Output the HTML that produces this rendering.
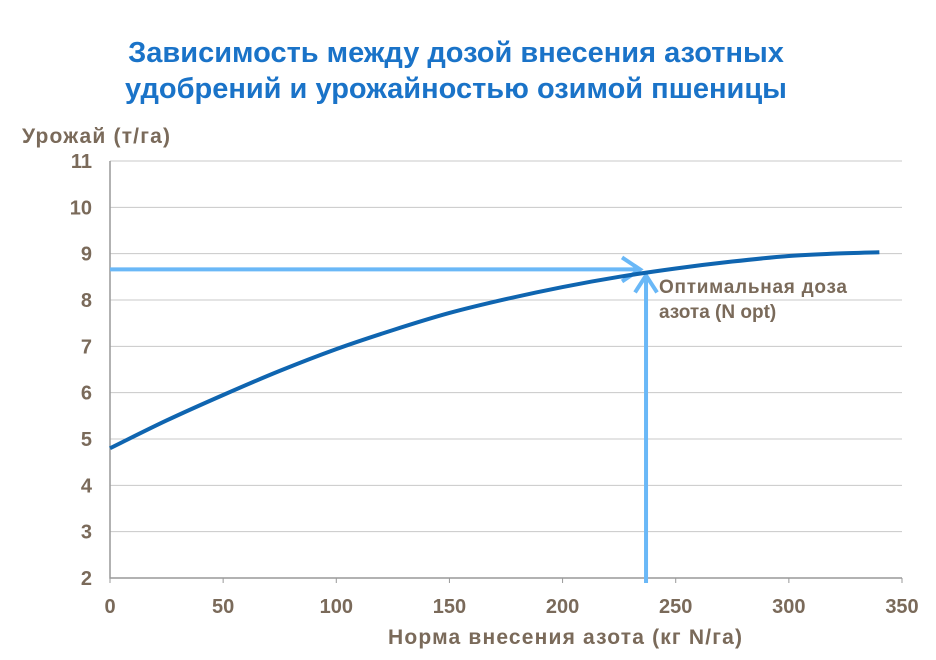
<!DOCTYPE html>
<html><head><meta charset="utf-8"><style>
body{margin:0;background:#fff;width:936px;height:655px;overflow:hidden;font-family:"Liberation Sans",sans-serif}
</style></head><body>
<svg width="936" height="655">
<text x="456" y="62" text-anchor="middle" font-size="29" font-weight="bold" fill="#1a73c8">Зависимость между дозой внесения азотных</text>
<text x="456" y="98" text-anchor="middle" font-size="29" font-weight="bold" fill="#1a73c8">удобрений и урожайностью озимой пшеницы</text>
<text x="22" y="143" font-size="21" font-weight="bold" fill="#7a6a5a" textLength="148">Урожай (т/га)</text>
<text x="388" y="644" font-size="21" font-weight="bold" fill="#7a6a5a" textLength="354">Норма внесения азота (кг N/га)</text>
<g id="grid"></g><g id="axes"></g><g id="marks"></g>
<text x="659" y="293" font-size="19" font-weight="bold" fill="#7a6a5a" textLength="188">Оптимальная доза</text>
<text x="659" y="318" font-size="19" font-weight="bold" fill="#7a6a5a">азота (N opt)</text>
</svg>
<script>
const xTicks=[0,50,100,150,200,250,300,350];
const yTicks=[2,3,4,5,6,7,8,9,10,11];
const doses=[0,25,50,75,100,125,150,175,200,225,250,275,300,320,340];
const yields=[4.8,5.4,5.95,6.47,6.94,7.35,7.72,8.02,8.28,8.5,8.68,8.83,8.95,9.0,9.03];
const optDose=236;
const optYield=8.66;
const NS="http://www.w3.org/2000/svg";
const X0=110,X1=902,Y0=578,Y1=161;
const sx=v=>X0+(v-0)/(350-0)*(X1-X0);
const sy=v=>Y0-(v-2)/(11-2)*(Y0-Y1);
function mk(t,a,p){const e=document.createElementNS(NS,t);for(const k in a)e.setAttribute(k,a[k]);p.appendChild(e);return e;}
const grid=document.getElementById('grid'),axes=document.getElementById('axes'),marks=document.getElementById('marks');
yTicks.forEach(v=>{
 if(v>2){const l=mk('line',{x1:X0,x2:X1,y1:sy(v),y2:sy(v),stroke:'#c8c8c8','stroke-width':1},grid);
 
 }
 const t=mk('text',{x:X0-18,y:sy(v)+7,'text-anchor':'end','font-size':20,'font-weight':'bold',fill:'#7a6a5a'},axes);t.textContent=v;
 
 
});
xTicks.forEach(v=>{
 const t=mk('text',{x:sx(v),y:613,'text-anchor':'middle','font-size':20,'font-weight':'bold',fill:'#7a6a5a'},axes);t.textContent=v;
 
 
 const k=mk('line',{x1:sx(v),x2:sx(v),y1:Y0,y2:Y0+5,stroke:'#999'},axes);
 
 
});
const pa=mk('path',{d:`M${X0} ${Y1}V${Y0}H${X1}`,fill:'none',stroke:'#999','stroke-width':1.5},axes);


const hx=sx(optDose)-4,hy=sy(optYield);
const ha=mk('path',{d:`M${X0} ${hy}H${hx} M${hx-18} ${hy-12}L${hx} ${hy}L${hx-18} ${hy+12}`,fill:'none',stroke:'#6ab8f7','stroke-width':4},marks);


const vx=sx(optDose)+2,vy=sy(optYield)+6;
const va=mk('path',{d:`M${vx} ${Y0+5}V${vy} M${vx-11} ${vy+17}L${vx} ${vy}L${vx+11} ${vy+17}`,fill:'none',stroke:'#6ab8f7','stroke-width':4},marks);


const pts=doses.map((d,i)=>[sx(d),sy(yields[i])]);
let d=`M${pts[0][0]} ${pts[0][1]}`;
for(let i=0;i<pts.length-1;i++){const p0=pts[i-1]||pts[i],p1=pts[i],p2=pts[i+1],p3=pts[i+2]||p2;
 d+=`C${p1[0]+(p2[0]-p0[0])/6} ${p1[1]+(p2[1]-p0[1])/6} ${p2[0]-(p3[0]-p1[0])/6} ${p2[1]-(p3[1]-p1[1])/6} ${p2[0]} ${p2[1]}`;}
const c=mk('path',{d:d,fill:'none',stroke:'#0f65b0','stroke-width':4},marks);


</script>
</body></html>
